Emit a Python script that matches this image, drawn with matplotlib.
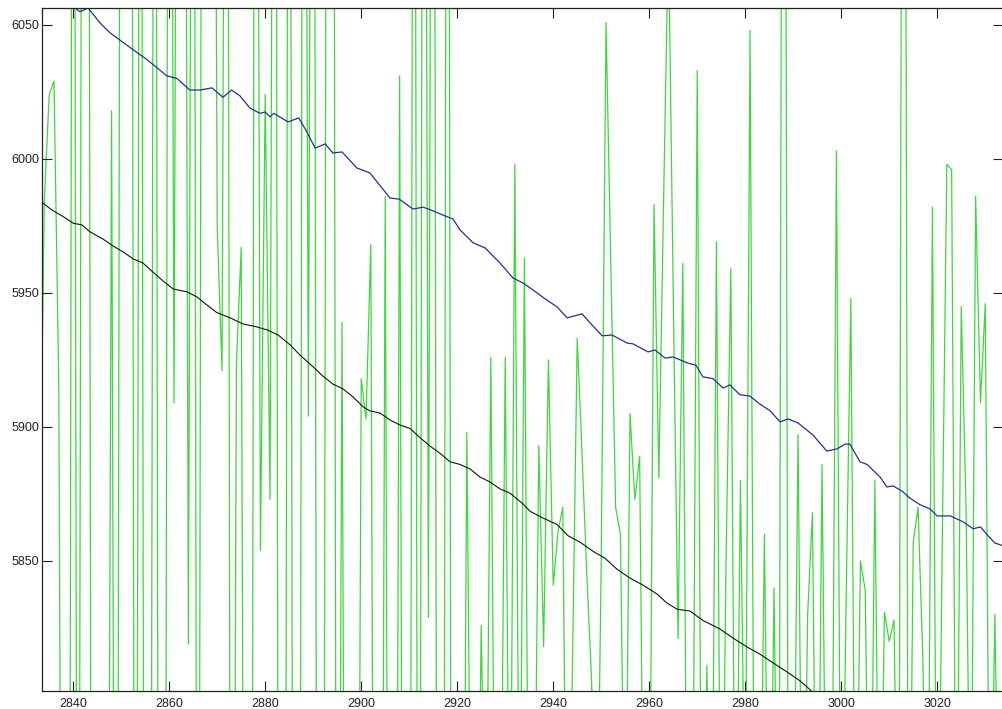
#imports
import numpy as np
import matplotlib
matplotlib.use('Agg')
from matplotlib import pyplot as plt

# green signal, one value per sample from 2833 to 3033
green_x = np.arange(2833, 3034)
green_y = [
    5860, 5985, 6024, 6029, 5915, 5480, 5420, 6420, 5470, 6380,   # 2833-2842
    6450, 5430, 5460, 5500, 5520, 6018, 5440, 6400, 6460, 6410,   # 2843-2852
    5430, 6390, 5450, 5480, 6430, 5420, 5460, 6440, 5909, 6400,   # 2853-2862
    6420, 5819, 6380, 5450, 6430, 6460, 6410, 5975, 5921, 6390,   # 2863-2872
    5440, 5924, 5967, 5460, 5430, 6420, 5854, 6024, 5873, 6400,   # 2873-2882
    5440, 5470, 6430, 5420, 5460, 6390, 5904, 6420, 5430, 5480,   # 2883-2892
    6410, 6450, 5500, 5939, 5470, 5450, 5520, 5918, 5903, 5968,   # 2893-2902
    5480, 5500, 5986, 5460, 5450, 6031, 5440, 5470, 6400, 5430,   # 2903-2912
    6420, 5829, 6410, 5450, 5470, 6440, 5430, 5480, 5600, 5898,   # 2913-2922
    5700, 5680, 5826, 5720, 5926, 5690, 5710, 5926, 5700, 5998,   # 2923-2932
    5710, 5963, 5690, 5720, 5893, 5818, 5925, 5841, 5861, 5870,   # 2933-2942
    5680, 5810, 5933, 5890, 5845, 5805, 5710, 5850, 6051, 5960,   # 2943-2952
    5870, 5860, 5720, 5905, 5873, 5889, 5700, 5710, 5983, 5881,   # 2953-2962
    5985, 6085, 5950, 5821, 5961, 5690, 5710, 6033, 5680, 5811,   # 2963-2972
    5700, 5969, 5690, 5850, 5959, 5700, 5880, 5740, 6048, 5690,   # 2973-2982
    5710, 5860, 5700, 5840, 5690, 6420, 5700, 5720, 5897, 5700,   # 2983-2992
    5830, 5868, 5690, 5886, 5710, 5720, 6003, 5700, 5833, 5948,   # 2993-3002
    5710, 5850, 5839, 5700, 5880, 5710, 5831, 5820, 5828, 5700,   # 3003-3012
    6430, 5680, 5857, 5870, 5814, 5710, 5982, 5690, 5850, 5998,   # 3013-3022
    5996, 5700, 5945, 5870, 5720, 5986, 5909, 5946, 5710, 5830,   # 3023-3032
    5720,                                                         # 3033
]

# blue curve
blue_x = [2838, 2839, 2840.4, 2841.4, 2843.1, 2845.6, 2847.7, 2852.5, 2855.4, 2859.5,
          2861.6, 2864.3, 2866.4, 2868.9, 2871.2, 2873, 2874.75, 2876.8, 2878.9, 2880,
          2881, 2881.8, 2884.75, 2887, 2888.7, 2890.4, 2892.5, 2894.1, 2896, 2899.1,
          2901.8, 2906, 2907.9, 2910.8, 2912.9, 2915, 2917.9, 2919.1, 2920.6, 2923.3,
          2925.8, 2928.9, 2931.6, 2933.7, 2935.8, 2938.3, 2940.8, 2942.9, 2946, 2948.1,
          2950.2, 2952.25, 2955.4, 2956.6, 2959.75, 2961.2, 2963.3, 2965, 2967.9, 2969.75,
          2971.2, 2973.3, 2975.4, 2976.8, 2978.9, 2981, 2983, 2985.2, 2987.25, 2988.9,
          2991, 2994.1, 2997, 2999.1, 3000.8, 3001.8, 3003.9, 3005.4, 3008.1, 3009.5,
          3010.8, 3012.7, 3014.3, 3016.4, 3018.5, 3020, 3022.75, 3025.4, 3027.5, 3029,
          3030.6, 3032, 3034]
blue_y = [6062, 6059, 6056.3, 6054.9, 6056.3, 6050.7, 6047, 6040.7, 6037, 6031,
          6030, 6025.7, 6025.7, 6026.5, 6023, 6025.7, 6023.5, 6019, 6017, 6017.5,
          6015.7, 6017, 6013.8, 6015.3, 6010, 6004, 6005.6, 6002.2, 6002.6, 5996.6,
          5994.8, 5985.4, 5985, 5981.3, 5982, 5980.6, 5978.4, 5977.6, 5973.5, 5968.7,
          5966.8, 5961.2, 5955.6, 5953.7, 5951.1, 5947.8, 5944.8, 5940.7, 5942.2, 5938,
          5934, 5934.3, 5931.3, 5931, 5928, 5928.7, 5925.7, 5926.1, 5923.9, 5923,
          5918.7, 5918, 5914.5, 5915.7, 5912, 5911.5, 5908.6, 5906, 5901.9, 5903,
          5901.5, 5897, 5891, 5891.8, 5893.6, 5893.6, 5887, 5886, 5881.3, 5877.6,
          5878, 5876, 5873.5, 5871, 5869.4, 5866.8, 5866.8, 5864.6, 5862, 5862.7,
          5859.4, 5856.7, 5855.5]

# black curve
black_x = [2833, 2835.5, 2837.9, 2840, 2841.8, 2843.5, 2846.2, 2848.3, 2850.4, 2852.5,
           2854.5, 2856.6, 2858.7, 2860.8, 2863.7, 2865.8, 2867.5, 2869.9, 2872.7, 2875.4,
           2878.3, 2880.4, 2882.7, 2885.2, 2887.25, 2889.75, 2892, 2894.1, 2896.2, 2898.3,
           2900.4, 2901.8, 2903.9, 2906, 2908.1, 2910.2, 2912.25, 2914.3, 2916.4, 2918.5,
           2920.6, 2922.7, 2924.75, 2926.8, 2928.9, 2931, 2933.7, 2935.2, 2937.9, 2940.8,
           2943.1, 2945.6, 2948.3, 2950.8, 2953.3, 2956, 2958.7, 2961.6, 2963.7, 2965.8,
           2968.5, 2971.2, 2974.75, 2977.4, 2980.4, 2983, 2985.8, 2988.7, 2991.4, 2993.5,
           2995]
black_y = [5984.5, 5981, 5978.5, 5976, 5975.4, 5972.8, 5970.1, 5967.5, 5965.3, 5962.7,
           5961.2, 5957.8, 5954.5, 5951.5, 5950.4, 5948.5, 5946, 5942.7, 5940.7, 5938.4,
           5937.3, 5936.2, 5934.3, 5930.6, 5926.8, 5922.8, 5919, 5916, 5914.2, 5911.2,
           5907.5, 5906, 5905.2, 5902.6, 5900.7, 5899.4, 5896, 5892.9, 5890.2, 5887,
           5886, 5884.3, 5881.3, 5879.5, 5876.9, 5875.3, 5871.3, 5868.5, 5866, 5863.6,
           5859.4, 5857, 5853.6, 5851, 5846.9, 5843.6, 5841, 5837.7, 5834.3, 5832,
           5831.3, 5827.8, 5824.6, 5821.3, 5817.9, 5815.3, 5812, 5808.6, 5805.3, 5802,
           5799]

xticks = [2840, 2860, 2880, 2900, 2920, 2940, 2960, 2980, 3000, 3020]
yticks = [5850, 5900, 5950, 6000, 6050]

plt.rcParams['font.family'] = ['Liberation Sans', 'DejaVu Sans']

fig = plt.figure(figsize=(10.02, 7.09), dpi=100)
# axes box, right edge just past the picture border
ax = fig.add_axes([42 / 1002, 18.3 / 709, 961 / 1002, 682.7 / 709])

ax.plot(green_x, green_y, color='#3cd83c', lw=0.9, zorder=1)
ax.plot(blue_x, blue_y, color='#24308c', lw=0.9, zorder=2)
ax.plot(black_x, black_y, color='#111111', lw=0.8, zorder=3)

ax.set_xlim(2833.5, 3033.7)
ax.set_ylim(5801.6, 6056.3)
ax.set_xticks(xticks)
ax.set_yticks(yticks)

# matlab style ticks on all four sides, pointing in
ax.tick_params(direction='in', length=7, width=0.8, top=True, right=True,
               labelsize=9, colors='#222222')
ax.tick_params(axis='x', pad=5)
ax.tick_params(axis='y', pad=2)
for s in ax.spines.values():
    s.set_linewidth(0.9)
    s.set_color('#222222')

fig.savefig('out.png', dpi=100)
